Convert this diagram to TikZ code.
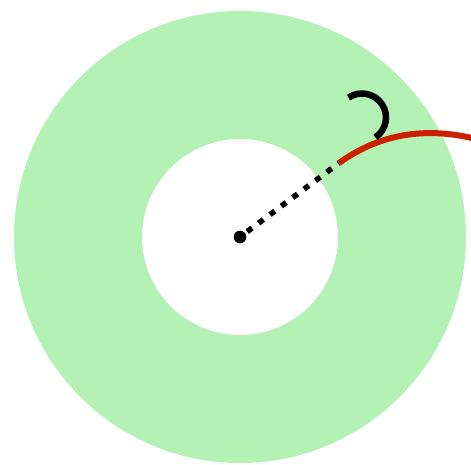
\documentclass[tikz,border=0pt]{standalone}
\definecolor{ringgreen}{RGB}{179,241,181}
\definecolor{curvered}{RGB}{204,32,0}
\tikzset{
  ring/.style={fill=ringgreen, even odd rule},
  dotline/.style={line width=5.5pt, dash pattern=on 6pt off 8.2pt, dash phase=-9pt},
  hook/.style={line width=6.5pt, draw=black},
  redcurve/.style={line width=6pt, draw=curvered}
}
\begin{document}
\begin{tikzpicture}[x=1pt,y=-1pt]
\useasboundingbox (0,0) rectangle (471,464);
\clip (0,0) rectangle (471,464);
\fill[ring] (240,237) circle[radius=226] (240,237) circle[radius=98];
\coordinate (c) at (240,237);
\coordinate (p) at (339,163);
\coordinate (hc) at (362,117.5);
\draw[dotline] (c) -- (p);
\fill (c) circle[radius=6.3];
\draw[redcurve] (p) .. controls (375,137) and (420,125) .. (476,139);
\draw[hook] ([shift={(-124:24)}]hc) arc[start angle=-124, end angle=56, radius=24];
\end{tikzpicture}
\end{document}
